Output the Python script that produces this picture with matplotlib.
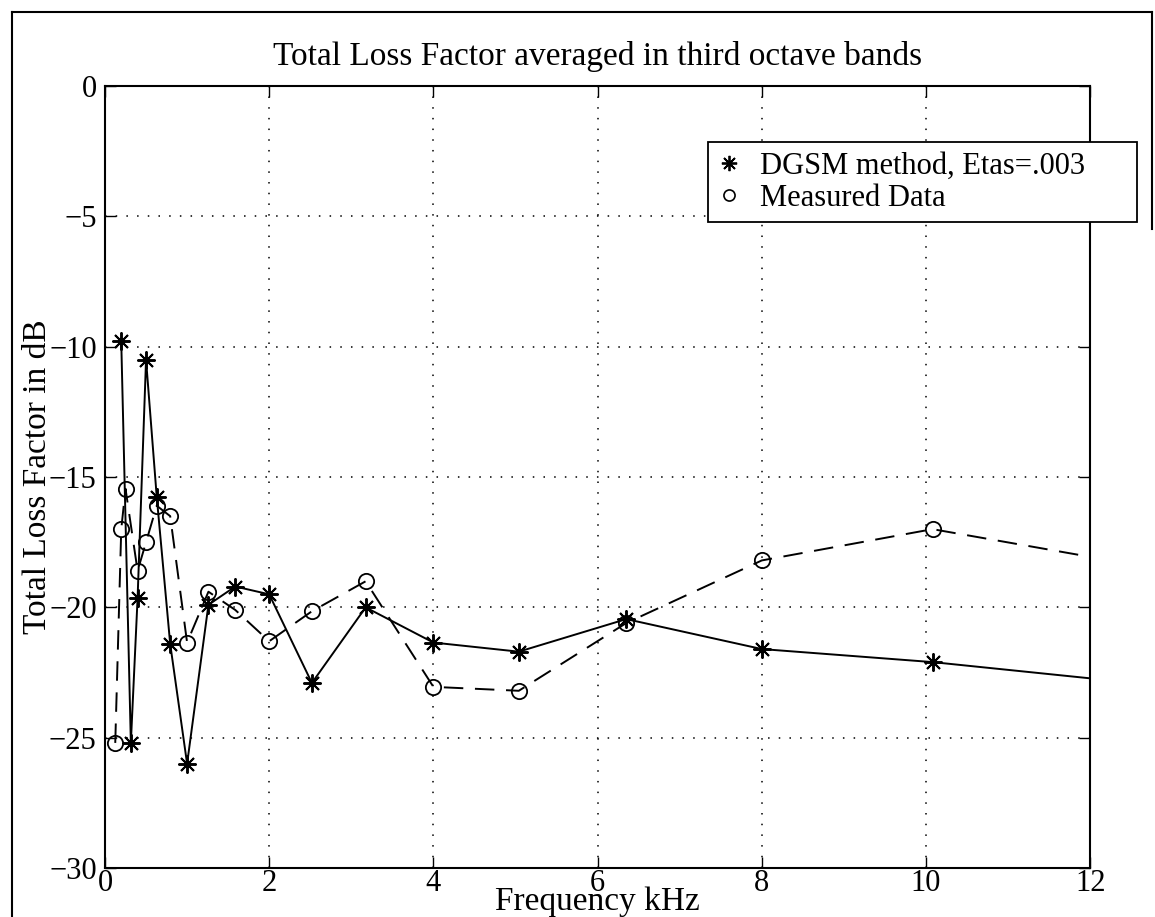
import numpy as np
import matplotlib
matplotlib.use('Agg')
import matplotlib.pyplot as plt
from matplotlib.lines import Line2D

# third octave band centres in kHz
freq_dgsm = [0.198, 0.315, 0.397, 0.5, 0.63, 0.794, 1.0, 1.26, 1.587, 2.0,
             2.52, 3.175, 4.0, 5.04, 6.35, 8.0, 10.08, 12.7]
loss_dgsm = [-9.8, -25.2, -19.65, -10.5, -15.75, -21.4, -26.0, -19.9, -19.2, -19.5,
             -22.9, -20.0, -21.35, -21.7, -20.45, -21.6, -22.1, -22.95]

freq_meas = [0.125, 0.198, 0.25, 0.397, 0.5, 0.63, 0.794, 1.0, 1.26, 1.587, 2.0,
             2.52, 3.175, 4.0, 5.04, 6.35, 8.0, 10.08, 12.7]
loss_meas = [-25.2, -17.0, -15.45, -18.6, -17.5, -16.1, -16.5, -21.35, -19.4, -20.1, -21.3,
             -20.15, -19.0, -23.05, -23.2, -20.6, -18.2, -17.0, -18.45]

xticks = [0, 2, 4, 6, 8, 10, 12]
yticks = [0, -5, -10, -15, -20, -25, -30]

plt.rcParams['font.family'] = ['Liberation Serif', 'DejaVu Serif']
plt.rcParams['axes.unicode_minus'] = True

fig = plt.figure(figsize=(11.55, 9.17), dpi=100)
ax = fig.add_axes([0.0909, 0.0534, 0.853, 0.8528])

ax.plot(freq_dgsm, loss_dgsm, color='black', lw=1.4, marker=(8, 2, 0),
        ms=13, mew=1.4, label='DGSM method, Etas=.003')
ax.plot(freq_meas, loss_meas, color='black', lw=1.4, ls=(0, (10, 6)), marker='o',
        ms=11, mfc='none', mew=1.3, label='Measured Data')

ax.set_xlim(0, 12)
ax.set_ylim(-30, 0)
ax.set_xticks(xticks)
ax.set_yticks(yticks)
ax.tick_params(direction='in', length=8, width=1, labelsize=22, top=True, right=True)
ax.tick_params(axis='x', pad=1)
ax.tick_params(axis='y', pad=6)
ax.grid(True, color='black', ls=(0, (1, 6)), lw=1.1)
for s in ax.spines.values():
    s.set_linewidth(1.5)

ax.set_title('Total Loss Factor averaged in third octave bands', fontsize=24, pad=15)
ax.set_xlabel('Frequency kHz', fontsize=24)
ax.set_ylabel('Total Loss Factor in dB', fontsize=24)
ax.xaxis.set_label_coords(0.5, -0.024)
ax.yaxis.set_label_coords(-0.053, 0.5)

handles = [Line2D([], [], color='black', ls='none', marker=(8, 2, 0), ms=11, mew=1.3),
           Line2D([], [], color='black', ls='none', marker='o', ms=8, mfc='none', mew=1.2)]
leg = ax.legend(handles, ['DGSM method, Etas=.003', 'Measured Data'],
                loc='upper left', bbox_to_anchor=(0.612, 0.813, 0.436, 0.115),
                mode='expand', fontsize=22, frameon=True, fancybox=False,
                borderpad=0.3, handlelength=0.8, handletextpad=0.6,
                labelspacing=0.1, borderaxespad=0)
leg.get_frame().set_edgecolor('black')
leg.get_frame().set_linewidth(1.3)
leg.get_frame().set_alpha(1)

# scanned page frame
fig.add_artist(Line2D([0.0104, 0.0104], [0.0, 0.987], color='black', lw=1.5))
fig.add_artist(Line2D([0.0104, 0.997], [0.987, 0.987], color='black', lw=1.5))
fig.add_artist(Line2D([0.997, 0.997], [0.75, 0.987], color='black', lw=1.5))

fig.savefig('out.png', dpi=100)
